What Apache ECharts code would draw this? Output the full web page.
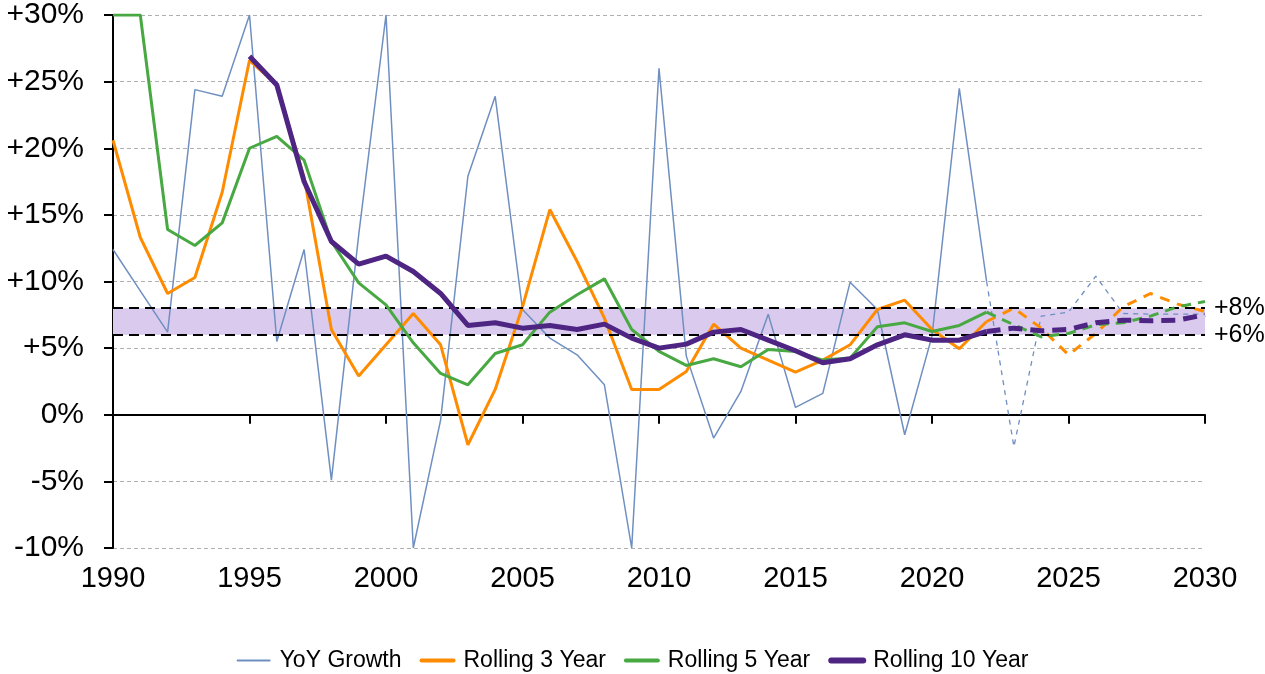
<!DOCTYPE html>
<html>
<head>
<meta charset="utf-8">
<script src="https://cdn.jsdelivr.net/npm/echarts@6/dist/echarts.min.js"></script>
<style>
  html, body { margin: 0; padding: 0; background: #fff; }
  #chart { width: 1265px; height: 674px; }
</style>
</head>
<body>
<div id="chart"></div>
<script>
// years on the x axis
var years = ["1990","1991","1992","1993","1994","1995","1996","1997","1998","1999",
  "2000","2001","2002","2003","2004","2005","2006","2007","2008","2009",
  "2010","2011","2012","2013","2014","2015","2016","2017","2018","2019",
  "2020","2021","2022","2023","2024","2025","2026","2027","2028","2029","2030"];

// actuals, 1990 - 2022 (values in %)
var yoyActual = [12.4, 9.3, 6.2, 24.4, 23.9, 30, 5.5, 12.4, -4.9, 13.5,
  30, -10, -0.4, 17.9, 23.9, 7.9, 5.75, 4.5, 2.25, -10,
  26.0, 4.4, -1.75, 1.75, 7.55, 0.55, 1.6, 9.95, 7.9, -1.5,
  5.9, 24.5, 10.0];
var roll3Actual = [20.6, 13.3, 9.1, 10.3, 16.7, 26.6, 24.75, 17.8, 6.4, 2.9,
  5.25, 7.6, 5.25, -2.25, 1.9, 8.1, 15.4, 11.5, 7.25, 1.9,
  1.9, 3.25, 6.8, 5.0, 4.1, 3.2, 4.1, 5.25, 7.9, 8.6,
  6.4, 4.95, 7.0];
var roll5Actual = [30, 30, 13.9, 12.7, 14.4, 20.0, 20.9, 19.1, 13.0, 9.9,
  8.25, 5.4, 3.1, 2.25, 4.6, 5.25, 7.7, 9.0, 10.2, 6.4,
  4.75, 3.7, 4.2, 3.6, 4.9, 4.75, 4.1, 4.25, 6.6, 6.9,
  6.25, 6.7, 7.7];
var roll10Actual = [null, null, null, null, null, 26.9, 24.75, 17.5, 13.0, 11.3,
  11.9, 10.75, 9.1, 6.7, 6.9, 6.5, 6.7, 6.4, 6.8, 5.75,
  5.0, 5.3, 6.2, 6.4, 5.6, 4.8, 3.9, 4.2, 5.25, 6.0,
  5.6, 5.6, 6.25];

// forecast, 2023 - 2030
var yoyForecast = [-2.4, 7.4, 7.7, 10.4, 7.6, 7.55, 7.55, 7.55];
var roll3Forecast = [8.0, 6.5, 4.5, 6.1, 8.1, 9.1, 8.3, 7.75];
var roll5Forecast = [6.75, 5.85, 6.1, 6.75, 6.9, 7.4, 8.1, 8.5];
var roll10Forecast = [6.5, 6.3, 6.4, 6.9, 7.1, 7.05, 7.1, 7.5];

// target band
var bandLow = 6;
var bandHigh = 8;

var names = ["YoY Growth", "Rolling 3 Year", "Rolling 5 Year", "Rolling 10 Year"];
var colors = ["#6f8fc1", "#ff8c00", "#48a842", "#4e2583"];
var widths = [1.5, 3, 3, 5];
var legendWidths = [2, 4, 4, 6];
var dashes = [[5, 5], [10, 8], [10, 7], [14, 8]];

function forecastData(actual, forecast) {
  var out = [];
  for (var i = 0; i < actual.length - 1; i++) out.push(null);
  out.push(actual[actual.length - 1]);
  return out.concat(forecast);
}

var actuals = [yoyActual, roll3Actual, roll5Actual, roll10Actual];
var forecasts = [yoyForecast, roll3Forecast, roll5Forecast, roll10Forecast];

var series = [];

// band + its dashed edges
series.push({
  type: "line",
  name: "band",
  data: [],
  z: 1,
  silent: true,
  markArea: {
    silent: true,
    itemStyle: { color: "#dacbee" },
    data: [[{ yAxis: bandLow }, { yAxis: bandHigh }]]
  },
  markLine: {
    silent: true,
    symbol: "none",
    lineStyle: { color: "#000", type: [10, 6], width: 2 },
    label: {
      position: "end",
      distance: 9,
      fontSize: 25,
      color: "#000",
      fontFamily: "Liberation Sans, Arial, sans-serif",
      formatter: function (p) { return "+" + p.value + "%"; }
    },
    data: [{ yAxis: bandHigh }, { yAxis: bandLow }]
  }
});

for (var k = 0; k < 4; k++) {
  series.push({
    type: "line",
    name: names[k],
    data: actuals[k],
    symbol: "none",
    z: 3 + k,
    lineStyle: { color: colors[k], width: widths[k] },
    itemStyle: { color: colors[k] }
  });
}
for (var k = 0; k < 4; k++) {
  series.push({
    type: "line",
    name: names[k],
    data: forecastData(actuals[k], forecasts[k]),
    symbol: "none",
    z: 3 + k,
    lineStyle: { color: colors[k], width: k === 0 ? 1.3 : widths[k], type: dashes[k] },
    itemStyle: { color: colors[k] }
  });
}

var legendData = names.map(function (n, i) {
  return { name: n, lineStyle: { width: legendWidths[i], cap: "round" } };
});

var chart = echarts.init(document.getElementById("chart"));
chart.setOption({
  animation: false,
  textStyle: { fontFamily: "Liberation Sans, Arial, sans-serif" },
  grid: { left: 113, right: 60, top: 15, bottom: 126 },
  legend: {
    data: legendData,
    bottom: -3,
    left: "center",
    itemWidth: 32,
    itemHeight: 8,
    itemGap: 18,
    itemStyle: { opacity: 0 },
    textStyle: { fontSize: 23, color: "#000", padding: [0, 0, 0, 5] }
  },
  xAxis: [
    {
      type: "category",
      data: years,
      boundaryGap: false,
      axisLine: { onZero: true, lineStyle: { color: "#000", width: 2 } },
      axisTick: { interval: 4, length: 9, lineStyle: { color: "#000", width: 2 } },
      axisLabel: { show: false },
      splitLine: { show: false }
    },
    {
      type: "category",
      data: years,
      boundaryGap: false,
      position: "bottom",
      axisLine: { show: false, onZero: false },
      axisTick: { show: false },
      axisLabel: { interval: 4, fontSize: 29, color: "#000", margin: 16 }
    }
  ],
  yAxis: {
    type: "value",
    min: -10,
    max: 30,
    interval: 5,
    axisLine: { show: true, lineStyle: { color: "#000", width: 2 } },
    axisTick: { show: true, length: 9, lineStyle: { color: "#000", width: 2 } },
    axisLabel: {
      fontSize: 30,
      color: "#000",
      margin: 29,
      formatter: function (v) { return (v > 0 ? "+" : "") + v + "%"; }
    },
    splitLine: { lineStyle: { color: "#b0b0b0", type: [4, 3], width: 1 } }
  },
  series: series
});
</script>
</body>
</html>
